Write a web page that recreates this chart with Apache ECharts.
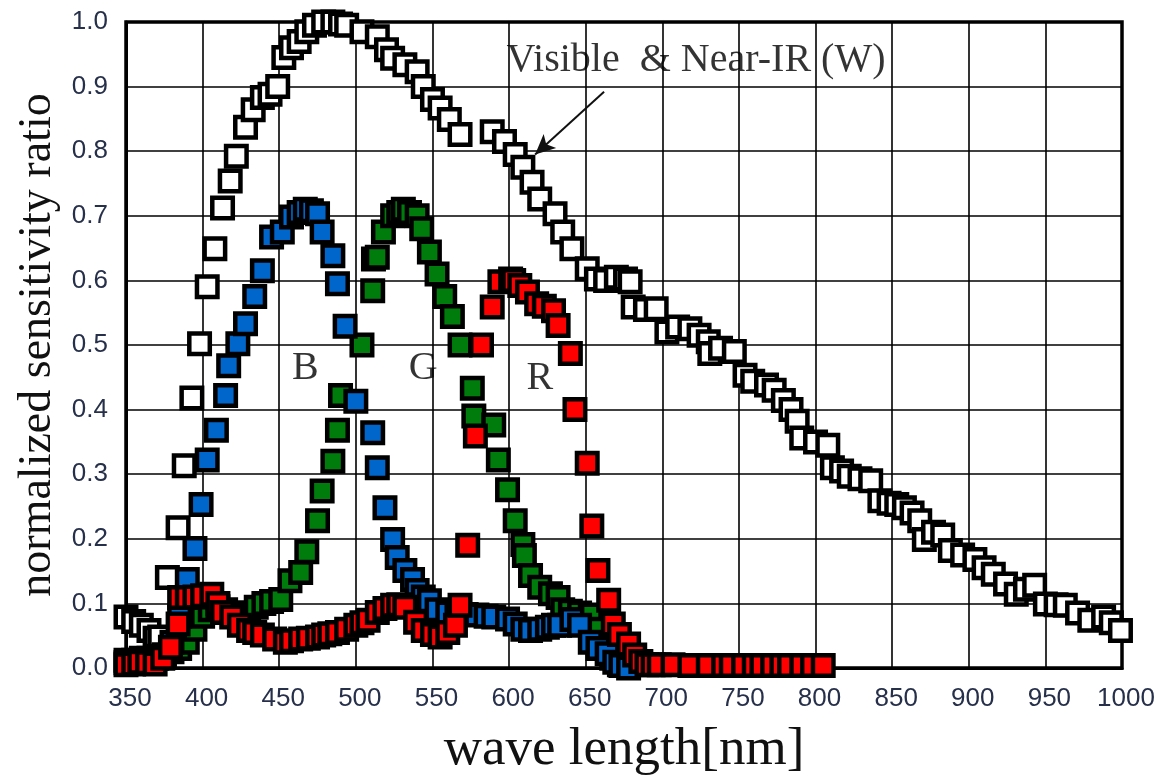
<!DOCTYPE html>
<html>
<head>
<meta charset="utf-8">
<script src="https://cdn.jsdelivr.net/npm/echarts@6/dist/echarts.min.js"></script>
<style>
html,body{margin:0;padding:0;background:#fff;}
#chart{width:1167px;height:782px;}
</style>
</head>
<body>
<div id="chart"></div>
<script>
// ---- data ----
const xTicks = [350,400,450,500,550,600,650,700,750,800,850,900,950,1000];

const W_nm  = [350,355,360,365,369,372,377,384,388,393,398,403,408,413,418,422,428,433,439,444,449,453,458,463,468,473,479,485,490,494,504,514,520,524,532,540,544,550,555,561,568,589,597,604,609,615,620,630,635,641,651,657,663,670,676,679,681,689,696,703,710,718,724,730,731,738,747,754,759,768,773,779,784,788,791,800,808,811,817,822,829,836,842,848,853,858,863,868,871,877,883,888,896,904,910,916,924,931,937,943,950,957,963,971,979,988,993,999];
const W_val = [0.079,0.072,0.066,0.058,0.046,0.048,0.140,0.217,0.313,0.418,0.502,0.590,0.649,0.712,0.754,0.792,0.837,0.864,0.883,0.888,0.900,0.945,0.960,0.970,0.985,0.995,1.000,1.000,0.997,0.995,0.985,0.977,0.957,0.944,0.934,0.923,0.900,0.880,0.867,0.849,0.826,0.830,0.815,0.795,0.775,0.752,0.726,0.703,0.675,0.649,0.618,0.602,0.600,0.605,0.602,0.598,0.559,0.555,0.556,0.520,0.528,0.525,0.515,0.505,0.487,0.495,0.490,0.453,0.444,0.438,0.430,0.414,0.400,0.382,0.356,0.350,0.345,0.310,0.305,0.297,0.293,0.290,0.259,0.255,0.253,0.248,0.240,0.228,0.199,0.210,0.206,0.182,0.175,0.168,0.155,0.145,0.130,0.114,0.122,0.128,0.099,0.098,0.097,0.085,0.074,0.079,0.070,0.058];

const B_nm  = [350,355,360,365,370,375,380,385,390,395,399,403,409,415,417,423,428,434,439,445,452,458,463,467,471,475,478,485,488,493,500,511,514,519,524,527,532,537,540,544,548,553,560,566,572,579,585,590,599,604,609,614,620,625,629,633,641,646,653,658,664,669,673,678];
const B_val = [0.008,0.010,0.012,0.012,0.015,0.020,0.040,0.080,0.137,0.185,0.253,0.322,0.368,0.422,0.468,0.502,0.533,0.575,0.615,0.667,0.675,0.698,0.705,0.710,0.708,0.703,0.675,0.638,0.595,0.529,0.413,0.364,0.310,0.248,0.199,0.171,0.151,0.137,0.120,0.110,0.104,0.090,0.085,0.085,0.083,0.082,0.080,0.079,0.076,0.068,0.060,0.058,0.060,0.063,0.066,0.066,0.075,0.066,0.040,0.030,0.022,0.009,0.004,0.000];

const G_nm  = [350,355,360,365,370,375,380,385,390,395,400,405,410,415,420,425,430,435,440,445,451,457,464,468,475,478,485,488,490,504,511,511.5,514,518,524,528,531,535,540,543,548,553,558,563,568,576,577,590,593,599,604,609,610,614,620,627,632,635,640,646,653,657,662,667,672];
const G_val = [0.012,0.012,0.015,0.015,0.018,0.020,0.025,0.030,0.040,0.060,0.080,0.090,0.095,0.090,0.085,0.080,0.085,0.094,0.100,0.103,0.106,0.135,0.148,0.180,0.228,0.274,0.320,0.368,0.422,0.500,0.584,0.633,0.636,0.675,0.700,0.705,0.710,0.705,0.700,0.680,0.644,0.610,0.575,0.544,0.500,0.433,0.390,0.376,0.322,0.276,0.228,0.191,0.174,0.143,0.125,0.115,0.109,0.090,0.088,0.085,0.082,0.060,0.035,0.015,0.005];

const R_nm  = [350,355,359,364,369,374,379,384,385,390,395,400,406,410,413,419,424,430,434,439,447,454,458,464,469,475,479,483,488,494,500,504,508,514,519,524,528,532,539,544,550,555,560,565,568,573,578,582,589,594,601,603,607,612,618,623,629,632,640,643,651,654,658,665,668,672,678,682,686,690,694,698,707,718,730,740,745,753,760,765,772,778,783,791,798,805];
const R_val = [0.005,0.006,0.009,0.008,0.006,0.015,0.032,0.068,0.109,0.109,0.110,0.112,0.114,0.100,0.086,0.079,0.066,0.058,0.055,0.051,0.045,0.040,0.042,0.045,0.046,0.048,0.051,0.053,0.055,0.060,0.066,0.070,0.074,0.086,0.092,0.097,0.098,0.094,0.071,0.058,0.052,0.048,0.055,0.066,0.097,0.190,0.359,0.500,0.559,0.598,0.602,0.600,0.592,0.582,0.564,0.560,0.553,0.530,0.487,0.400,0.317,0.220,0.151,0.105,0.068,0.052,0.037,0.020,0.010,0.005,0.005,0.005,0.005,0.004,0.004,0.004,0.004,0.004,0.004,0.004,0.004,0.004,0.004,0.004,0.004,0.004];

const annotations = [
  {text: 'Visible  & Near-IR (W)', nm: 722, v: 0.941},
  {text: 'B', nm: 467, v: 0.464},
  {text: 'G', nm: 544, v: 0.464},
  {text: 'R', nm: 620, v: 0.448}
];
const arrowFrom = [662, 0.892];
const arrowTo = [617, 0.795];

// ---- chart ----
const zip = (xs, ys) => xs.map((x, i) => [x, ys[i]]);
const chart = echarts.init(document.getElementById('chart'), null, {renderer: 'canvas'});

function sq(name, nm, val, fill, z) {
  return {
    name: name, type: 'scatter', data: zip(nm, val), clip: false,
    symbol: 'rect', symbolSize: 20.5, z: z,
    itemStyle: {color: fill, borderColor: '#000', borderWidth: 4.5, opacity: 1},
    emphasis: {disabled: true}, silent: true
  };
}

const serif = '"Liberation Serif", "Times New Roman", serif';
const sans = '"Liberation Sans", Arial, sans-serif';

chart.setOption({
  animation: false,
  backgroundColor: '#fff',
  grid: {left: 126, right: 45, top: 22, bottom: 111, show: true, borderColor: '#000', borderWidth: 3.5, backgroundColor: 'transparent'},
  xAxis: {
    type: 'value', min: 350, max: 1000, interval: 50,
    name: 'wave length[nm]', nameLocation: 'middle', nameGap: 56,
    nameTextStyle: {fontFamily: serif, fontSize: 53, color: '#111'},
    axisLine: {show: true, lineStyle: {color: '#000', width: 3}},
    axisTick: {show: false},
    axisLabel: {margin: 18, fontFamily: sans, fontSize: 26, color: '#27304a', padding: [0, 0, 0, 8],
                formatter: v => String(Math.round(v))},
    splitLine: {show: true, lineStyle: {color: '#000', width: 1.6}}
  },
  yAxis: {
    type: 'value', min: 0, max: 1, interval: 0.1,
    name: 'normalized sensitivity ratio', nameLocation: 'middle', nameGap: 64,
    nameTextStyle: {fontFamily: serif, fontSize: 46, color: '#111'},
    axisLine: {show: true, lineStyle: {color: '#000', width: 3}},
    axisTick: {show: false},
    axisLabel: {margin: 18, fontFamily: sans, fontSize: 26, color: '#27304a', formatter: v => v.toFixed(1)},
    splitLine: {show: true, lineStyle: {color: '#000', width: 1.6}}
  },
  series: [
    sq('W', W_nm, W_val, '#ffffff', 2),
    sq('G', G_nm, G_val, '#007c0c', 3),
    sq('B', B_nm, B_val, '#0066cc', 4),
    sq('R', R_nm, R_val, '#ff0000', 5),
    {
      name: 'labels', type: 'scatter', symbolSize: 0, z: 6, silent: true, clip: false,
      itemStyle: {color: '#000'},
      data: annotations.map(a => ({value: [a.nm, a.v], name: a.text})),
      label: {show: true, position: 'inside', formatter: p => p.name,
              fontFamily: serif, fontSize: 40, color: '#000', textBorderWidth: 0, textBorderColor: 'transparent'},
      markLine: {
        silent: true, symbol: ['none', 'arrow'], symbolSize: [14, 20],
        label: {show: false},
        lineStyle: {color: '#111', width: 2, type: 'solid'},
        data: [[{coord: arrowFrom}, {coord: arrowTo}]]
      }
    }
  ]
});
</script>
</body>
</html>
